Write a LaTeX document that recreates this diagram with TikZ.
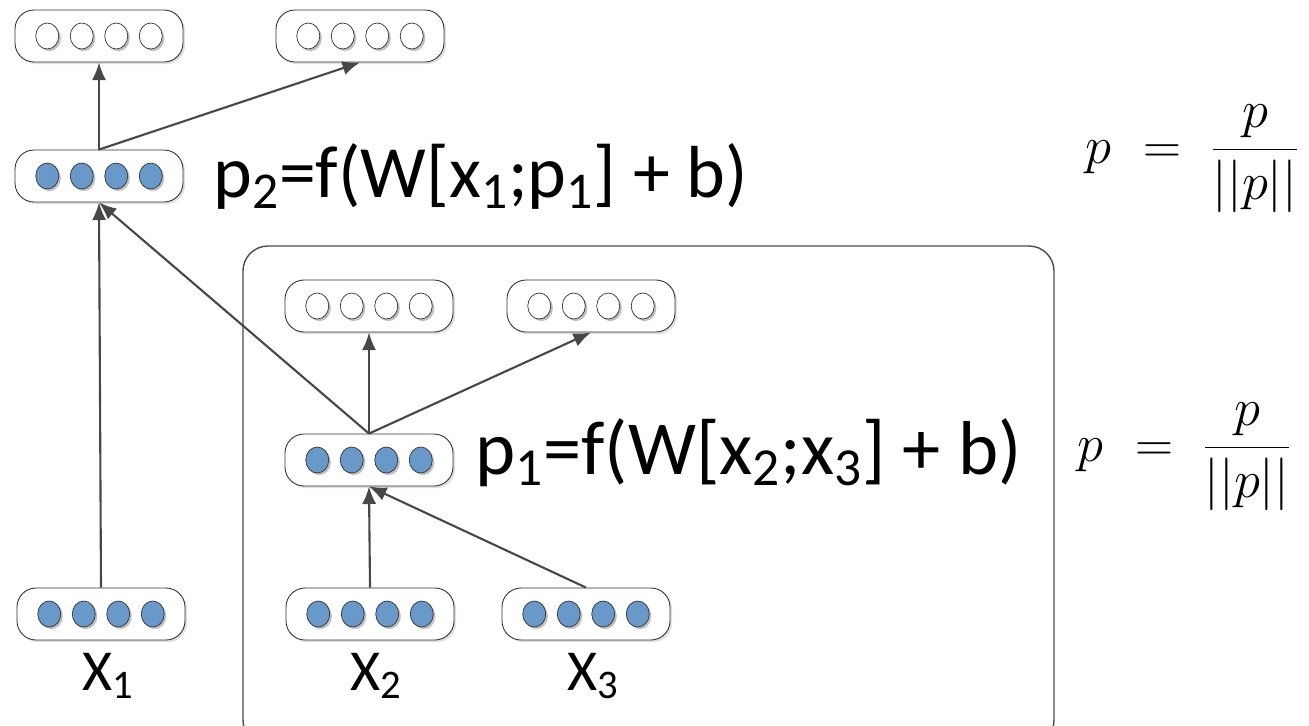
\RequirePackage{fix-cm}
\documentclass[tikz,border=0pt]{standalone}
\usepackage{fontspec}
\setmainfont{Carlito}
\usepackage{tikz}
\usetikzlibrary{arrows.meta,shapes.geometric,shadows}

\definecolor{unitblue}{RGB}{104,153,201}

% four units inside a layer box
\newcommand{\units}[2]{%
  \foreach \i/\dx in {1/-1.035,2/-0.345,3/0.345,4/1.035}
    \node[unit, fill=#2] (#1-\i) at ([xshift=\dx cm]#1.center) {};}

\begin{document}
\begin{tikzpicture}[x=0.02cm, y=-0.02cm, >={Latex[length=10pt,width=8pt]},
    layer/.style={draw=black!80, fill=white, line width=0.5pt, rounded corners=0.38cm,
      minimum width=3.36cm, minimum height=1.04cm,
      drop shadow={shadow xshift=1.2pt, shadow yshift=-1.2pt, fill=black!12, opacity=1}},
    unit/.style={ellipse, draw=black!80, thin, inner sep=0pt,
      minimum width=0.46cm, minimum height=0.52cm,
      drop shadow={shadow xshift=1.2pt, shadow yshift=-1.2pt, fill=black!25, opacity=1}},
    conn/.style={->, draw=black!72, line width=1.2pt},
    eq/.style={font=\fontsize{42}{50}\selectfont, anchor=base west, inner sep=0pt},
    xlbl/.style={font=\fontsize{33}{40}\selectfont, anchor=base west, inner sep=0pt},
    norm/.style={font=\fontsize{30}{36}\selectfont, anchor=base west, inner sep=0pt}]
   \useasboundingbox (0,0) rectangle (1309,725);

   % frame round the lower composition
   \draw[draw=black!70, line width=0.8pt, rounded corners=0.5cm] (243,246) rectangle (1054,745);

   \node[layer] (top1) at (99,36)   {};
   \node[layer] (top2) at (360,36)  {};
   \node[layer] (p2)   at (99,176)  {};
   \node[layer] (top3) at (369,306) {};
   \node[layer] (top4) at (591,306) {};
   \node[layer] (p1)   at (369,460) {};
   \node[layer] (x1)   at (101,614) {};
   \node[layer] (x2)   at (370,614) {};
   \node[layer] (x3)   at (586,614) {};

   \units{top1}{white} \units{top2}{white}
   \units{top3}{white} \units{top4}{white}
   \units{p2}{unitblue} \units{p1}{unitblue}
   \units{x1}{unitblue} \units{x2}{unitblue} \units{x3}{unitblue}

   \node[eq] (p2eq) at (213,197) {p\textsubscript{2}=f(W[x\textsubscript{1};p\textsubscript{1}] + b)};
   \node[eq, font=\fontsize{43.5}{50}\selectfont] (p1eq) at (475,474)
        {p\textsubscript{1}=f(W[x\textsubscript{2};x\textsubscript{3}] + b)};

   \node[norm] (norm2) at (1085,163) {$\displaystyle p \mkern6mu = \mkern5mu \frac{p}{||p||}$};
   \node[norm] (norm1) at (1077,461) {$\displaystyle p \mkern6mu = \mkern5mu \frac{p}{||p||}$};

   \node[xlbl] (lx1) at (82,690)  {X\textsubscript{1}};
   \node[xlbl] (lx2) at (350,690) {X\textsubscript{2}};
   \node[xlbl] (lx3) at (567,690) {X\textsubscript{3}};

   \path (x1.north) edge [conn] (p2.south)
         (p1.north) edge [conn] (p2.south)
         (p2.north) edge [conn] (top1.south)
         (p2.north) edge [conn] (top2.south)
         (p1.north) edge [conn] (top3.south)
         (p1.north) edge [conn] (top4.south)
         (x2.north) edge [conn] (p1.south)
         (x3.north) edge [conn] (p1.south);
\end{tikzpicture}
\end{document}
